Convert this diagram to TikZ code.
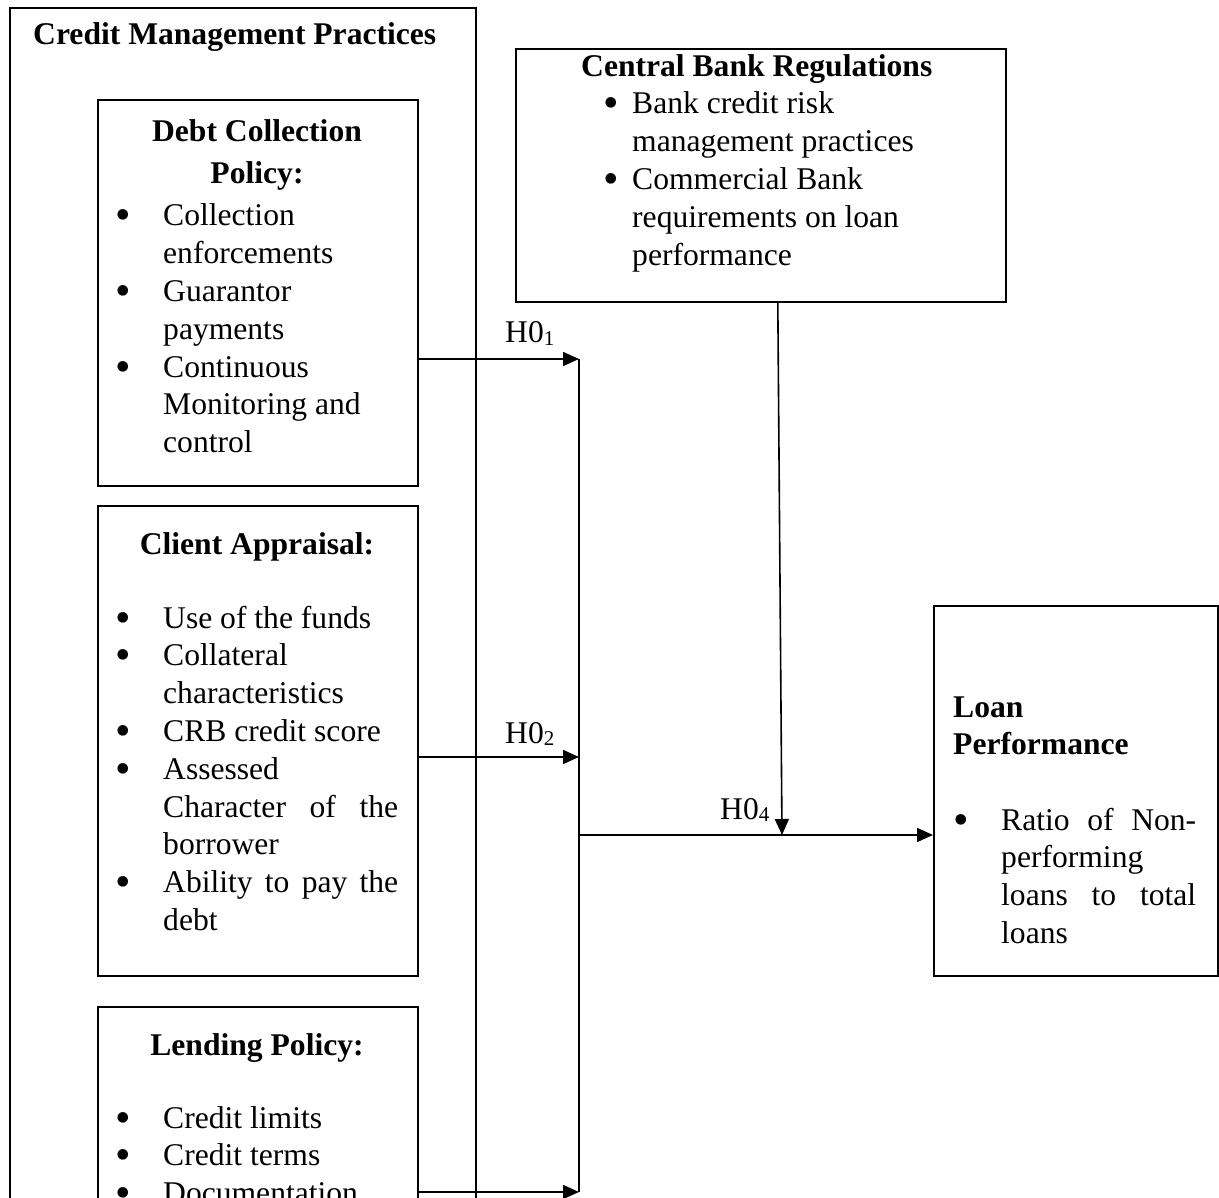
\documentclass[tikz,border=0pt]{standalone}
\usepackage{fontspec}
\setmainfont{Liberation Serif}
\usetikzlibrary{arrows.meta}
\newcommand{\bul}[1]{\makebox[#1]{\raisebox{-4pt}{\scalebox{1.4}{\textbullet}}}}
\newcommand{\hyp}[1]{H0\raisebox{-2.5pt}{\fontsize{21}{21}\selectfont #1}}

\begin{document}
\begin{tikzpicture}[x=1pt,y=-1pt,
    font=\fontsize{31.6}{37.8}\selectfont,
    box/.style={draw,line width=1.6pt,anchor=north west,inner sep=0pt},
    txt/.style={anchor=base west,inner sep=0pt},
    ttl/.style={anchor=base,inner sep=0pt,font=\fontsize{31.6}{37.8}\selectfont\bfseries},
    arr/.style={line width=1.6pt,-{Triangle[length=16pt,width=14pt]}}]
    \useasboundingbox (0,0) rectangle (1219,1198);
    \clip (0,0) rectangle (1219,1198);

    \node[box,minimum width=466pt,minimum height=1250pt](cmp)at(9,7){};
    \node[box,minimum width=320pt,minimum height=386pt](debt)at(97,99){};
    \node[box,minimum width=320pt,minimum height=470pt](client)at(97,505){};
    \node[box,minimum width=320pt,minimum height=250pt](lend)at(97,1006){};
    \node[box,minimum width=490pt,minimum height=253pt](cbr)at(515,48){};
    \node[box,minimum width=284pt,minimum height=370pt](loan)at(933,605){};

    \node[txt,font=\fontsize{31.6}{37.8}\selectfont\bfseries](cmptitle)at(33,45){Credit Management Practices};

    \node[ttl](debttitle)at(257,142){\begin{tabular}[t]{@{}c@{}}Debt Collection\\[4pt]Policy:\end{tabular}};
    \node[txt](debtlist)at(83,226){\begin{tabular}[t]{@{}l@{}l@{}}
        \bul{80pt}&Collection\\&enforcements\\
        \bul{80pt}&Guarantor\\&payments\\
        \bul{80pt}&Continuous\\&Monitoring and\\&control\end{tabular}};

    \node[ttl](clienttitle)at(257,554){Client Appraisal:};
    \node[txt](clientlist)at(83,628){\begin{tabular}[t]{@{}l@{}l@{}}
        \bul{80pt}&Use of the funds\\
        \bul{80pt}&Collateral\\&characteristics\\
        \bul{80pt}&CRB credit score\\
        \bul{80pt}&Assessed\\&\makebox[235pt][s]{Character of the}\\&borrower\\
        \bul{80pt}&\makebox[235pt][s]{Ability to pay the}\\&debt\end{tabular}};

    \node[ttl](lendtitle)at(257,1055){Lending Policy:};
    \node[txt](lendlist)at(83,1128){\begin{tabular}[t]{@{}l@{}l@{}}
        \bul{80pt}&Credit limits\\
        \bul{80pt}&Credit terms\\
        \bul{80pt}&Documentation\end{tabular}};

    \node[txt,font=\fontsize{31.6}{37.8}\selectfont\bfseries](cbrtitle)at(581,77){Central Bank Regulations};
    \node[txt](cbrlist)at(590,114){\begin{tabular}[t]{@{}l@{}l@{}}
        \bul{42pt}&Bank credit risk\\&management practices\\
        \bul{42pt}&Commercial Bank\\&requirements on loan\\&performance\end{tabular}};

    \node[txt,font=\fontsize{31.6}{37.8}\selectfont\bfseries](loantitle)at(953,717){\begin{tabular}[t]{@{}l@{}}Loan\\Performance\end{tabular}};
    \node[txt](loanlist)at(921,830){\begin{tabular}[t]{@{}l@{}l@{}}
        \bul{80pt}&\makebox[195pt][s]{Ratio of Non-}\\&performing\\
        &\makebox[195pt][s]{loans to total}\\&loans\end{tabular}};

    \coordinate(j1)at(579,359);
    \coordinate(j2)at(579,757);
    \coordinate(j3)at(579,1192);
    \coordinate(jm)at(579,835);
    \coordinate(jc)at(782,835);

    \draw[arr](debt.east|-j1)--(j1);
    \draw[arr](client.east|-j2)--(j2);
    \draw[arr](lend.east|-j3)--(j3);
    \draw[line width=1.6pt](j1)--(j3);
    \draw[arr](jm)--(loan.west|-jm);
    \draw[arr]([xshift=17pt]cbr.south)--(jc);

    \node[txt](h1)at(505,343){\hyp{1}};
    \node[txt](h2)at(505,743){\hyp{2}};
    \node[txt](h4)at(720,819){\hyp{4}};
\end{tikzpicture}
\end{document}
